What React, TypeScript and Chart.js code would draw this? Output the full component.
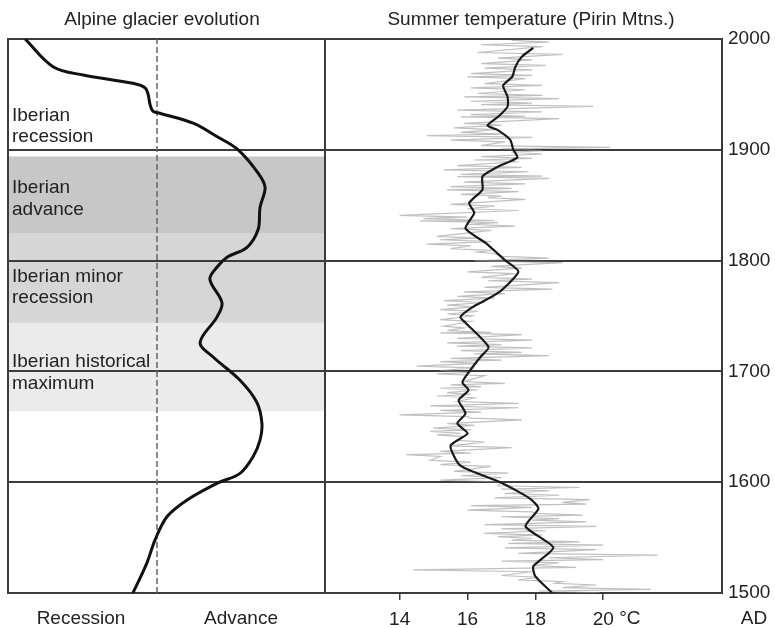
import React, { useEffect, useRef } from "react";
import { Chart, registerables } from "chart.js";
Chart.register(...registerables);

const FONT = "'Liberation Sans', Arial, Helvetica, sans-serif";
const TEXT = "#222222";
const FRAME = "#3c3c3c";

// ---- Left panel: Alpine glacier extent (0 = dashed reference line; <0 recession, >0 advance)
const glacierYears = [2000, 1975, 1967.5, 1960, 1956, 1950, 1941, 1935, 1933, 1924, 1912, 1900, 1879, 1866, 1848, 1828, 1812, 1803, 1794, 1783, 1762, 1749, 1726, 1713, 1692, 1672, 1653, 1638, 1623, 1608, 1599, 1584, 1569, 1548, 1527, 1500];
const glacierExtent = [-41.6, -32.8, -23.3, -7.6, -3.8, -2.8, -2.2, -1.3, 0.9, 11.4, 18.9, 25.6, 31.9, 34.1, 32.5, 31.9, 28.4, 22.1, 18.9, 16.7, 20.5, 18.9, 13.6, 17.7, 26.2, 31.5, 33.1, 32.5, 30.3, 26.2, 18.9, 9.5, 3.2, -0.6, -3.2, -7.6];
const extentMin = -47;
const extentMax = 53;

// Shaded periods (Iberian phases)
const bandFrom = [1894, 1825, 1744];
const bandTo = [1825, 1744, 1664];
const bandColors = ["#c7c7c7", "#d6d6d6", "#ebebeb"];

// ---- Right panel: summer temperature (Pirin Mtns.)
const smoothYears = [1992, 1984, 1975, 1966, 1958, 1948, 1939, 1930, 1922, 1918, 1909, 1900, 1893, 1885, 1876, 1864, 1852, 1843, 1829, 1816, 1800, 1790, 1771, 1758, 1749, 1744, 1722, 1713, 1699, 1690, 1683, 1674, 1662, 1653, 1644, 1633, 1615, 1600, 1585, 1576, 1560, 1541, 1524, 1515, 1500];
const smoothTemps = [17.94, 17.6, 17.41, 17.32, 17.05, 17.18, 17.18, 16.91, 16.59, 16.88, 17.26, 17.35, 17.47, 16.91, 16.44, 16.44, 16.05, 16.2, 15.94, 16.53, 17.12, 17.5, 16.91, 16.15, 15.79, 15.94, 16.62, 16.38, 16.03, 15.85, 16.03, 15.74, 15.94, 15.7, 16.0, 15.5, 15.79, 16.97, 17.85, 18.09, 17.71, 18.53, 17.94, 18.0, 18.5];

const annualYears = [
  1998, 1994, 1987, 1982, 1977, 1973, 1968, 1965, 1959, 1955,
  1950, 1947, 1943, 1940, 1935, 1931, 1929, 1923, 1919, 1915,
  1912, 1908, 1903, 1900, 1897, 1893, 1890, 1885, 1881, 1877,
  1875, 1870, 1866, 1863, 1859, 1856, 1850, 1846, 1840, 1837,
  1835, 1832, 1828, 1821, 1818, 1814, 1810, 1807, 1803, 1799,
  1794, 1789, 1784, 1781, 1775, 1771, 1767, 1763, 1759, 1755,
  1751, 1746, 1740, 1736, 1734, 1729, 1725, 1722, 1718, 1715,
  1711, 1708, 1704, 1700, 1697, 1690, 1687, 1684, 1680, 1677,
  1672, 1668, 1664, 1660, 1657, 1652, 1648, 1645, 1642, 1637,
  1632, 1627, 1624, 1619, 1615, 1609, 1605, 1601, 1596, 1593,
  1589, 1585, 1581, 1578, 1574, 1571, 1568, 1565, 1561, 1557,
  1553, 1550, 1547, 1544, 1540, 1535, 1531, 1528, 1524, 1520,
  1515, 1511, 1508, 1504, 1501,
];
const annualLow = [
  17.3, 16.4, 16.3, 16.9, 16.4, 16.5, 16.1, 16.0, 16.5, 16.1,
  16.3, 15.9, 16.1, 16.4, 15.7, 16.1, 15.8, 15.9, 15.6, 15.8,
  14.8, 15.5, 16.4, 17.0, 17.3, 16.4, 16.2, 15.7, 15.3, 15.8,
  15.7, 15.9, 15.5, 15.4, 15.8, 16.6, 15.5, 16.0, 14.0, 14.7,
  14.6, 16.0, 15.5, 15.1, 15.2, 14.8, 15.5, 16.3, 17.0, 16.2,
  16.7, 16.0, 16.4, 16.6, 16.5, 15.9, 15.7, 15.3, 15.4, 15.2,
  15.4, 15.2, 15.3, 15.4, 15.2, 15.7, 15.4, 15.7, 15.8, 16.2,
  15.5, 15.2, 14.5, 15.2, 15.1, 15.9, 15.5, 15.2, 15.4, 15.1,
  15.7, 14.9, 15.2, 14.0, 16.1, 15.4, 15.0, 14.9, 15.1, 15.7,
  15.5, 15.2, 14.2, 14.9, 15.2, 15.6, 15.8, 15.2, 16.9, 17.0,
  17.1, 16.8, 18.8, 16.1, 16.0, 18.0, 17.0, 17.9, 16.5, 17.0,
  16.5, 16.9, 17.3, 17.2, 17.1, 17.5, 18.4, 17.0, 17.9, 14.4,
  17.0, 17.5, 18.6, 18.8, 18.1,
];
const annualHigh = [
  18.4, 18.2, 18.8, 17.9, 18.3, 17.9, 17.9, 17.7, 18.2, 17.7,
  18.2, 18.7, 17.9, 19.7, 18.2, 17.7, 18.7, 17.0, 16.8, 17.1,
  17.9, 17.1, 20.2, 18.2, 18.2, 17.9, 17.5, 17.6, 17.8, 18.2,
  18.4, 17.7, 17.3, 17.5, 17.0, 17.7, 16.8, 17.5, 16.0, 16.8,
  16.9, 17.4, 16.7, 16.3, 16.7, 16.1, 16.7, 16.8, 18.4, 18.8,
  17.6, 17.4, 17.9, 18.7, 18.5, 17.1, 16.8, 16.5, 16.2, 16.3,
  16.2, 16.1, 15.9, 16.7, 17.6, 17.9, 17.0, 17.9, 17.6, 18.4,
  17.0, 16.3, 16.2, 16.1, 16.5, 17.1, 16.4, 16.3, 16.1, 16.2,
  17.5, 17.5, 16.4, 16.0, 17.6, 16.2, 16.1, 15.8, 15.9, 16.5,
  17.3, 16.1, 15.2, 16.1, 16.7, 17.2, 17.0, 17.0, 19.3, 18.4,
  18.7, 19.6, 19.5, 17.9, 17.9, 19.4, 18.7, 19.5, 19.8, 18.3,
  18.2, 17.9, 19.3, 20.0, 19.8, 21.6, 20.0, 18.7, 19.2, 17.9,
  18.1, 18.8, 19.8, 21.4, 19.9,
];

const yearTicks = [1500, 1600, 1700, 1800, 1900, 2000];
const tempTicks = [14, 16, 18, 20];
const tempMin = 11.8;
const tempMax = 23.5;

Chart.defaults.font.family = FONT;
Chart.defaults.font.size = 19;
Chart.defaults.color = TEXT;

const annualPoints: { x: number; y: number }[] = [];
annualYears.forEach((yr, i) => {
  annualPoints.push({ x: annualLow[i], y: yr + 0.8 });
  annualPoints.push({ x: annualHigh[i], y: yr - 0.8 });
});

const borderOnly = (pos: string, axis: string, horizontal: boolean, min: number, max: number) => ({
  type: "linear",
  axis,
  position: pos,
  min,
  max,
  ticks: { display: false },
  grid: { display: false },
  border: { display: true, color: FRAME, width: 2 },
  afterFit: (s: any) => {
    if (horizontal) s.height = 0;
    else s.width = 0;
  },
});

const leftLabels = {
  id: "leftLabels",
  afterDraw(chart: any) {
    const ctx = chart.ctx;
    ctx.save();
    ctx.font = `19px ${FONT}`;
    ctx.fillStyle = TEXT;
    ctx.textBaseline = "alphabetic";
    ctx.textAlign = "center";
    ctx.fillText("Alpine glacier evolution", 162, 25);
    ctx.fillText("Summer temperature (Pirin Mtns.)", 531, 25);
    ctx.fillText("Recession", 81, 624);
    ctx.fillText("Advance", 241, 624);
    ctx.textAlign = "left";
    const items: [string, number][] = [
      ["Iberian", 121],
      ["recession", 142],
      ["Iberian", 193],
      ["advance", 215],
      ["Iberian minor", 282],
      ["recession", 303],
      ["Iberian historical", 367],
      ["maximum", 389],
    ];
    items.forEach(([t, y]) => ctx.fillText(t, 12, y));
    ctx.restore();
  },
};

const rightLabels = {
  id: "rightLabels",
  afterDraw(chart: any) {
    const ctx = chart.ctx;
    const xs = chart.scales.x;
    ctx.save();
    ctx.font = `19px ${FONT}`;
    ctx.fillStyle = TEXT;
    ctx.textBaseline = "alphabetic";
    ctx.textAlign = "left";
    ctx.fillText("°C", xs.getPixelForValue(20) + 16, 624);
    ctx.textAlign = "center";
    ctx.fillText("AD", 754, 624);
    ctx.restore();
  },
};

export default function App() {
  const refA = useRef<HTMLCanvasElement>(null);
  const refB = useRef<HTMLCanvasElement>(null);

  useEffect(() => {
    const bandDatasets = bandFrom.map((from, i) => ({
      type: "line",
      data: [
        { x: extentMin, y: from },
        { x: extentMax, y: from },
      ],
      borderWidth: 0,
      pointRadius: 0,
      backgroundColor: bandColors[i],
      fill: { value: bandTo[i] },
    }));

    const chartA = new Chart(refA.current as HTMLCanvasElement, {
      type: "line",
      data: {
        datasets: [
          {
            data: glacierYears.map((y, i) => ({ x: glacierExtent[i], y })),
            borderColor: "#111111",
            borderWidth: 3,
            pointRadius: 0,
            tension: 0.35,
            fill: false,
          },
          {
            data: [
              { x: 0, y: 1500 },
              { x: 0, y: 2000 },
            ],
            borderColor: "#666666",
            borderWidth: 1.5,
            borderDash: [6, 3],
            pointRadius: 0,
            fill: false,
          },
          ...bandDatasets,
        ] as any,
      },
      options: {
        animation: false,
        responsive: false,
        events: [],
        layout: { padding: { left: 8, top: 39, right: 450, bottom: 35 } },
        plugins: {
          legend: { display: false },
          tooltip: { enabled: false },
          filler: { drawTime: "beforeDraw" },
        } as any,
        scales: {
          x: borderOnly("bottom", "x", true, extentMin, extentMax) as any,
          x2: borderOnly("top", "x", true, extentMin, extentMax) as any,
          y: {
            type: "linear",
            position: "left",
            min: 1500,
            max: 2000,
            afterBuildTicks: (s: any) => {
              s.ticks = yearTicks.map((v) => ({ value: v }));
            },
            ticks: { display: false },
            grid: { color: FRAME, lineWidth: 2, drawTicks: false },
            border: { display: true, color: FRAME, width: 2 },
            afterFit: (s: any) => {
              s.width = 0;
            },
          } as any,
          y2: borderOnly("right", "y", false, 1500, 2000) as any,
        },
      },
      plugins: [leftLabels],
    });

    const chartB = new Chart(refB.current as HTMLCanvasElement, {
      type: "line",
      data: {
        datasets: [
          {
            data: smoothYears.map((y, i) => ({ x: smoothTemps[i], y })),
            borderColor: "#1a1a1a",
            borderWidth: 2.2,
            pointRadius: 0,
            tension: 0.2,
            fill: false,
          },
          {
            data: annualPoints,
            borderColor: "rgba(150,150,150,0.6)",
            borderWidth: 1.2,
            pointRadius: 0,
            tension: 0,
            fill: false,
          },
        ] as any,
      },
      options: {
        animation: false,
        responsive: false,
        events: [],
        layout: { padding: { left: 325, top: 39, right: 0, bottom: 0 } },
        plugins: { legend: { display: false }, tooltip: { enabled: false } },
        scales: {
          x: {
            type: "linear",
            position: "bottom",
            min: tempMin,
            max: tempMax,
            afterBuildTicks: (s: any) => {
              s.ticks = tempTicks.map((v) => ({ value: v }));
            },
            ticks: { font: { size: 19 }, color: TEXT, padding: 8, maxRotation: 0, autoSkip: false },
            grid: { drawOnChartArea: false, drawTicks: true, tickLength: 7, color: FRAME, lineWidth: 1.5 },
            border: { display: true, color: FRAME, width: 2 },
            afterFit: (s: any) => {
              s.height = 35;
            },
          } as any,
          x2: borderOnly("top", "x", true, tempMin, tempMax) as any,
          y: {
            type: "linear",
            position: "right",
            min: 1500,
            max: 2000,
            afterBuildTicks: (s: any) => {
              s.ticks = yearTicks.map((v) => ({ value: v }));
            },
            ticks: { font: { size: 19 }, color: TEXT, padding: 6, callback: (v: any) => String(v) },
            grid: { color: FRAME, lineWidth: 2, drawTicks: false },
            border: { display: true, color: FRAME, width: 2 },
            afterFit: (s: any) => {
              s.width = 53;
            },
          } as any,
          y2: borderOnly("left", "y", false, 1500, 2000) as any,
        },
      },
      plugins: [rightLabels],
    });

    return () => {
      chartA.destroy();
      chartB.destroy();
    };
  }, []);

  return (
    <div style={{ position: "fixed", left: 0, top: 0, width: 775, height: 628, background: "#ffffff" }}>
      <canvas ref={refA} width={775} height={628} style={{ position: "absolute", left: 0, top: 0 }} />
      <canvas ref={refB} width={775} height={628} style={{ position: "absolute", left: 0, top: 0 }} />
    </div>
  );
}
